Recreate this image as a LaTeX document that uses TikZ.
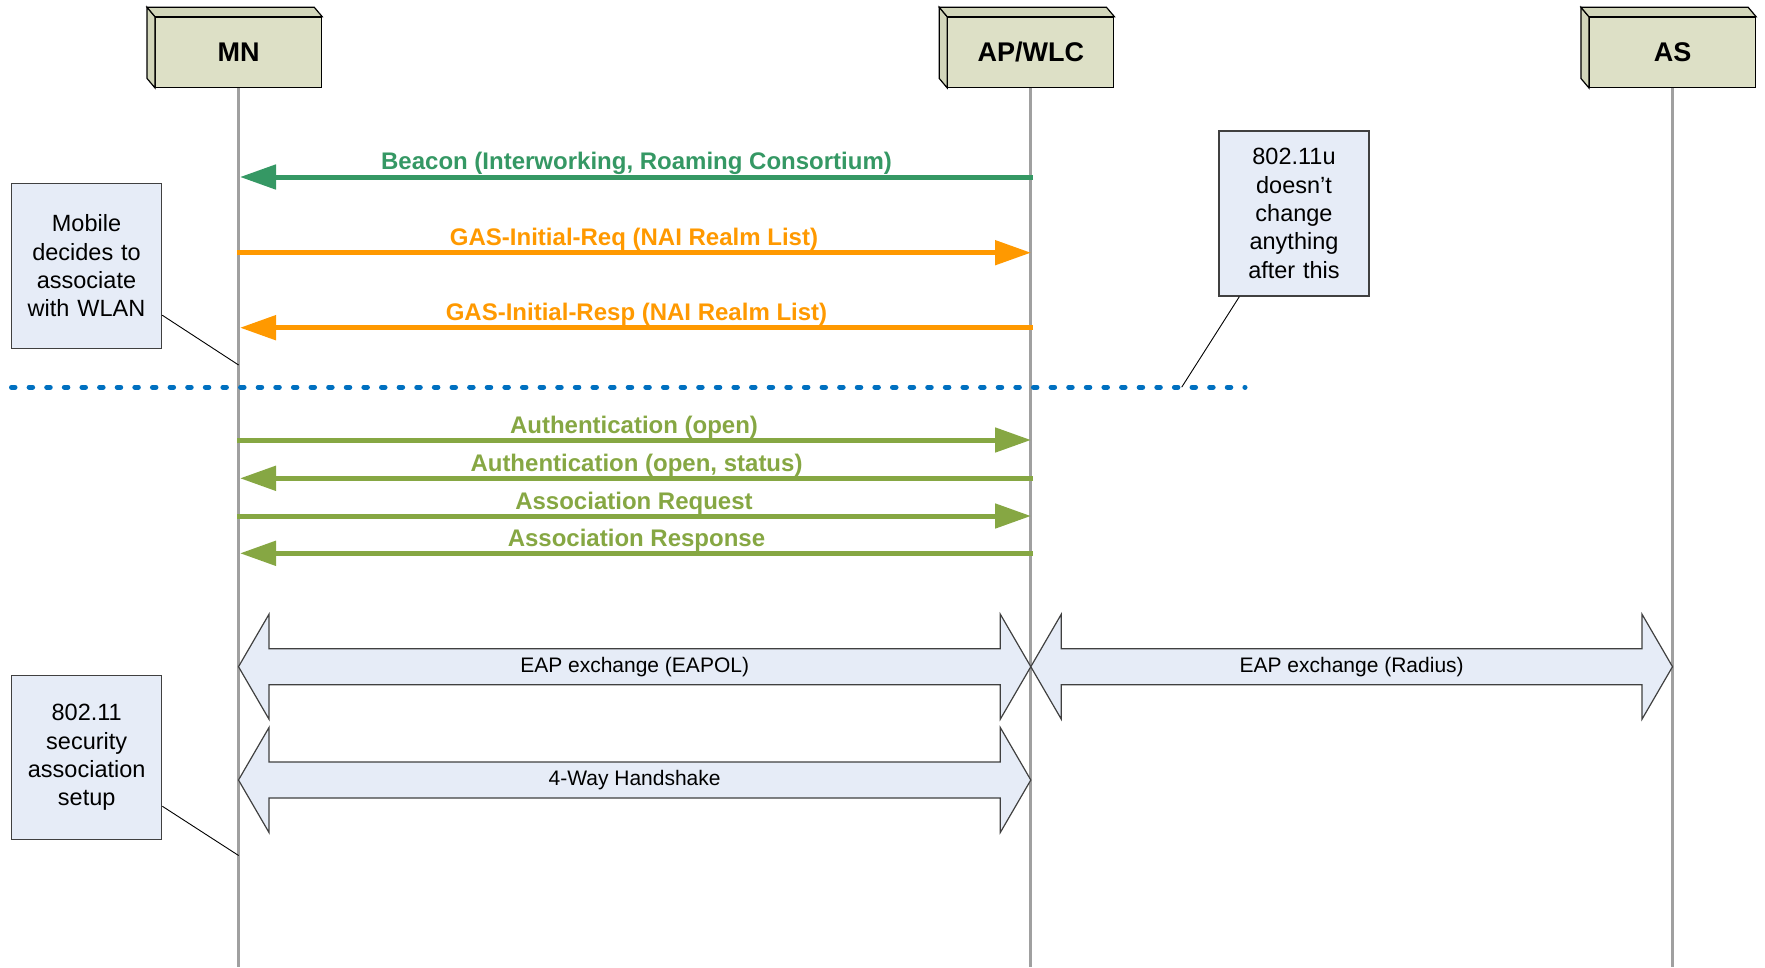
\documentclass[tikz,border=0pt]{standalone}
\usepackage{fontspec}
\setmainfont{Liberation Sans}
\usetikzlibrary{arrows.meta,calc}
\definecolor{beacongreen}{RGB}{53,152,100}
\definecolor{gasorange}{RGB}{255,153,0}
\definecolor{authgreen}{RGB}{134,167,67}
\definecolor{hdrfill}{RGB}{221,224,198}
\definecolor{hdrside}{RGB}{210,214,186}
\definecolor{notefill}{RGB}{230,236,247}
\definecolor{lifegray}{RGB}{160,160,160}
\definecolor{dashblue}{RGB}{0,112,192}
\definecolor{edgegray}{RGB}{64,64,64}
\newcommand\blockdbl[4]{%
  \draw[blk] (#1,#3) -- ({#1+30.5},{#3-52.5}) -- ({#1+30.5},{#3-18}) -- ({#2-30.5},{#3-18}) -- ({#2-30.5},{#3-52.5}) -- (#2,#3) -- ({#2-30.5},{#3+52.5}) -- ({#2-30.5},{#3+18}) -- ({#1+30.5},{#3+18}) -- ({#1+30.5},{#3+52.5}) -- cycle;
  \node[blklbl] at ({(#1+#2)/2},#3) {#4};}
\begin{document}
\begin{tikzpicture}[x=1pt,y=-1pt,
  hdr/.style={draw=black, line width=1.2pt, fill=hdrfill, minimum width=166pt, minimum height=70pt, inner sep=0pt, font=\fontsize{27}{32}\selectfont\bfseries},
  hdrface/.style={draw=black, line width=1.2pt, fill=hdrside, line join=miter},
  life/.style={draw=lifegray, line width=3pt},
  msg/.style={line width=5pt, -{Triangle[length=36pt,width=24pt]}},
  msglbl/.style={font=\fontsize{24}{28}\selectfont\bfseries, inner sep=0pt},
  note/.style={draw=edgegray, line width=1.3pt, fill=notefill, minimum width=150pt, minimum height=165pt, text width=146pt, align=center, inner sep=0pt, font=\fontsize{23.5}{28.3}\selectfont},
  callout/.style={draw=black, line width=0.9pt},
  blk/.style={draw=edgegray, line width=1.2pt, fill=notefill, line join=miter},
  blklbl/.style={font=\fontsize{21}{25}\selectfont, inner sep=0pt},
]
\useasboundingbox (0,0) rectangle (1765,967);

% headers
\node[hdr] (mn) at (238.6,52.3) {MN};
\node[hdr] (ap) at (1030.8,52.3) {AP/WLC};
\node[hdr] (as) at (1672.5,52.3) {AS};
\foreach \n in {mn,ap,as}{
  \filldraw[hdrface] (\n.north west) -- ++(-8,-9.5) -- ([shift={(-8,-9.5)}]\n.south west) -- (\n.south west) -- cycle;
  \filldraw[hdrface] (\n.north west) -- ++(-8,-9.5) -- ([shift={(-8,-9.5)}]\n.north east) -- (\n.north east) -- cycle;
}

% lifelines
\coordinate (mnEnd) at (238.6,967);
\coordinate (apEnd) at (1030.8,967);
\coordinate (asEnd) at (1672.5,967);
\draw[life] (mn.south) -- (mnEnd);
\draw[life] (ap.south) -- (apEnd);
\draw[life] (as.south) -- (asEnd);

% messages
\coordinate (mnBeacon) at (240,177);   \coordinate (apBeacon) at (1033,177);
\coordinate (mnReq) at (237,252.7);    \coordinate (apReq) at (1031,252.7);
\coordinate (mnResp) at (240,327.7);   \coordinate (apResp) at (1033,327.7);
\coordinate (mnAuth) at (237,440);     \coordinate (apAuth) at (1031,440);
\coordinate (mnAuthS) at (240,478.3);  \coordinate (apAuthS) at (1033,478.3);
\coordinate (mnAssoc) at (237,516);    \coordinate (apAssoc) at (1031,516);
\coordinate (mnAssocR) at (240,553.3); \coordinate (apAssocR) at (1033,553.3);

\draw[msg, beacongreen] (apBeacon) -- (mnBeacon) node[msglbl, pos=0.5, yshift=13.5pt] {Beacon (Interworking, Roaming Consortium)};
\draw[msg, gasorange] (mnReq) -- (apReq) node[msglbl, pos=0.5, yshift=13.5pt] {GAS-Initial-Req (NAI Realm List)};
\draw[msg, gasorange] (apResp) -- (mnResp) node[msglbl, pos=0.5, yshift=13.5pt] {GAS-Initial-Resp (NAI Realm List)};
\draw[msg, authgreen] (mnAuth) -- (apAuth) node[msglbl, pos=0.5, yshift=12.5pt] {Authentication (open)};
\draw[msg, authgreen] (apAuthS) -- (mnAuthS) node[msglbl, pos=0.5, yshift=13pt] {Authentication (open, status)};
\draw[msg, authgreen] (mnAssoc) -- (apAssoc) node[msglbl, pos=0.5, yshift=12.5pt] {Association Request};
\draw[msg, authgreen] (apAssocR) -- (mnAssocR) node[msglbl, pos=0.5, yshift=13pt] {Association Response};

% dashed separator
\coordinate (dashL) at (11.5,387.2);
\coordinate (dashR) at (1245,387.2);
\coordinate (dashN) at (1181.7,387.2);
\draw[dashblue, line width=5pt, line cap=round, dash pattern=on 3.5pt off 14.12pt] (dashL) -- (dashR);

% notes
\node[note] (note1) at (86.5,266) {Mobile\\decides to\\associate\\with WLAN};
\node[note] (note2) at (1294,213.5) {802.11u\\doesn’t\\change\\anything\\after this};
\node[note, minimum height=164pt] (note3) at (86.7,757.6) {802.11\\security\\association\\setup};
\coordinate (mnN1) at (238.6,365);
\coordinate (mnN3) at (238.6,855.5);
\draw[callout] ([yshift=34pt]note1.south east) -- (mnN1);
\draw[callout] ([xshift=21pt]note2.south west) -- (dashN);
\draw[callout] ([yshift=34pt]note3.south east) -- (mnN3);

% block double arrows
\blockdbl{238.5}{1030.8}{666.7}{EAP exchange (EAPOL)}
\blockdbl{1030.8}{1672.5}{666.7}{EAP exchange (Radius)}
\blockdbl{238.5}{1030.8}{780}{4-Way Handshake}
\end{tikzpicture}
\end{document}
